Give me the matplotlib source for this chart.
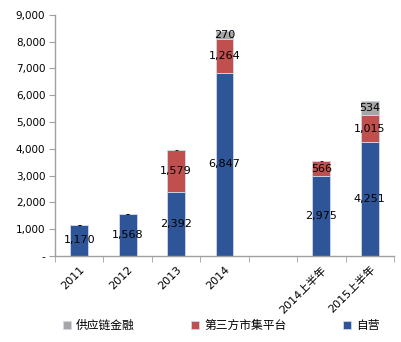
import numpy as np
import matplotlib.pyplot as plt

plt.rcParams['font.family'] = ['DejaVu Sans', 'Noto Sans CJK SC']

# data (units as in the source chart)
categories = ['2011', '2012', '2013', '2014', '', '2014上半年', '2015上半年']
self_run = [1170, 1568, 2392, 6847, np.nan, 2975, 4251]
third_party = [0, 0, 1579, 1264, np.nan, 566, 1015]
supply_chain = [0, 0, 0, 270, np.nan, 0, 534]

series = [
    ('自营', self_run, '#2E5597'),
    ('第三方市集平台', third_party, '#C0504D'),
    ('供应链金融', supply_chain, '#A6A6A6'),
]

fig = plt.figure(figsize=(4.02, 3.42), dpi=100)
ax = fig.add_axes([0.137, 0.2515, 0.843, 0.705])

x = np.arange(len(categories))
bottom = np.zeros(len(categories))
handles = {}
for name, vals, color in series:
    vals = np.array(vals, dtype=float)
    h = ax.bar(x, np.nan_to_num(vals), 0.37, bottom=bottom, color=color,
               edgecolor='#D0D8E8', linewidth=0.6)
    handles[name] = h
    # value labels
    for xi, v, b in zip(x, vals, bottom):
        if np.isnan(v):
            continue
        txt = '-' if v == 0 else f'{v:,.0f}'
        ax.text(xi, b + v / 2, txt, ha='center', va='center', fontsize=8,
                color='black')
    bottom = bottom + np.nan_to_num(vals)

ax.set_xlim(-0.5, len(categories) - 0.5)
ax.set_ylim(0, 9000)
yt = np.arange(0, 9001, 1000)
ax.set_yticks(yt)
ax.set_yticklabels(['-'] + [f'{v:,}' for v in yt[1:]], fontsize=7.5)
ax.set_xticks(x)
ax.set_xticklabels(categories, rotation=45, ha='right', rotation_mode='anchor',
                   fontsize=8)
ax.set_xticks(np.arange(-0.5, len(categories), 1), minor=True)
ax.tick_params(axis='x', which='major', length=0, pad=6)
ax.tick_params(axis='x', which='minor', length=4, color='#A0A0A0')
ax.tick_params(axis='y', length=4, color='#A0A0A0', pad=3)

for s in ['top', 'right']:
    ax.spines[s].set_visible(False)
for s in ['left', 'bottom']:
    ax.spines[s].set_color('#A0A0A0')
    ax.spines[s].set_linewidth(1)

order = ['供应链金融', '第三方市集平台', '自营']
fig.legend([handles[k] for k in order], order, loc='center',
           bbox_to_anchor=(0.55, 0.048), ncol=3, frameon=False,
           prop={'family': ['Noto Sans CJK SC'], 'size': 8.5},
           handlelength=0.7, handleheight=0.7, handletextpad=0.4,
           columnspacing=4.8)

fig.savefig('out.png', dpi=100)
